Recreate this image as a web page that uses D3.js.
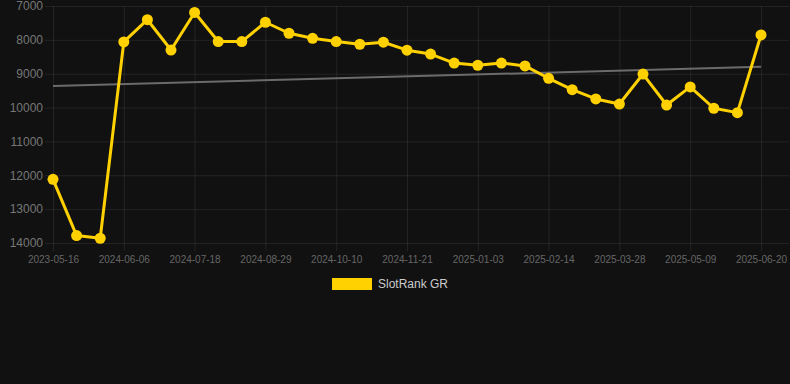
<!DOCTYPE html>
<html>
<head>
<meta charset="utf-8">
<script src="https://cdn.jsdelivr.net/npm/d3@7"></script>
<style>
    html, body { margin: 0; padding: 0; background: #111111; }
    #chart { width: 790px; height: 384px; }
    text { font-family: "Liberation Sans", Arial, Helvetica, sans-serif; }
</style>
</head>
<body>
<div id="chart"></div>
<script>
const dates = [
    "2023-05-16", "2024-05-09", "2024-05-23", "2024-06-06", "2024-06-20", "2024-07-04",
    "2024-07-18", "2024-08-01", "2024-08-15", "2024-08-29", "2024-09-12", "2024-09-26",
    "2024-10-10", "2024-10-24", "2024-11-07", "2024-11-21", "2024-12-06", "2024-12-20",
    "2025-01-03", "2025-01-17", "2025-01-31", "2025-02-14", "2025-02-28", "2025-03-14",
    "2025-03-28", "2025-04-11", "2025-04-25", "2025-05-09", "2025-05-23", "2025-06-06",
    "2025-06-20"
];
const rankGR = [
    12120, 13780, 13860, 8060, 7405, 8300,
    7190, 8050, 8050, 7480, 7805, 7955,
    8050, 8130, 8070, 8305, 8420, 8685,
    8750, 8685, 8770, 9135, 9470, 9745,
    9895, 9010, 9925, 9390, 10020, 10150,
    7855
];
const trendEnds = [9365, 8795];
const yTicks = [7000, 8000, 9000, 10000, 11000, 12000, 13000, 14000];
const seriesName = "SlotRank GR";

const yellow = "#ffd100";
const svg = d3.select("#chart").append("svg")
    .attr("width", 790)
    .attr("height", 384);

const plotLeft = 53, plotRight = 761, plotTop = 6, plotBottom = 243, gridRight = 789;

const x = d3.scalePoint().domain(dates).range([plotLeft, plotRight]);
const y = d3.scaleLinear().domain([7000, 14000]).range([plotTop, plotBottom]);

// y axis + horizontal grid
const yAxis = svg.append("g")
    .attr("transform", `translate(${plotLeft},0)`)
    .call(d3.axisLeft(y).tickValues(yTicks).tickSize(0).tickPadding(10).tickFormat(d => d));
yAxis.select(".domain").remove();
yAxis.selectAll(".tick line")
    .attr("x1", -8).attr("x2", gridRight - plotLeft)
    .attr("stroke", "rgba(255,255,255,0.08)");
yAxis.selectAll(".tick text")
    .attr("fill", "#777").style("font-size", "12px");

// x axis + vertical grid
const xAxis = svg.append("g")
    .attr("transform", `translate(0,${plotBottom})`)
    .call(d3.axisBottom(x).tickValues(dates.filter((d, i) => i % 3 === 0)).tickSize(0).tickPadding(13));
xAxis.select(".domain").remove();
xAxis.selectAll(".tick line")
    .attr("y1", 8).attr("y2", plotTop - plotBottom)
    .attr("stroke", "rgba(255,255,255,0.08)");
xAxis.selectAll(".tick text")
    .attr("fill", "#666").style("font-size", "10px");

// trend line
svg.append("line")
    .attr("x1", x(dates[0])).attr("y1", y(trendEnds[0]))
    .attr("x2", x(dates[dates.length - 1])).attr("y2", y(trendEnds[1]))
    .attr("stroke", "#6b6b6b")
    .attr("stroke-width", 2);

// series line
const line = d3.line()
    .x((d, i) => x(dates[i]))
    .y(d => y(d));

svg.append("path")
    .datum(rankGR)
    .attr("fill", "none")
    .attr("stroke", yellow)
    .attr("stroke-width", 3)
    .attr("stroke-linejoin", "round")
    .attr("d", line);

svg.append("g")
    .selectAll("circle")
    .data(rankGR)
    .enter().append("circle")
    .attr("cx", (d, i) => x(dates[i]))
    .attr("cy", d => y(d))
    .attr("r", 5.5)
    .attr("fill", yellow);

// legend
const legend = svg.append("g").attr("transform", "translate(332,278)");
legend.append("rect")
    .attr("width", 40).attr("height", 12)
    .attr("fill", yellow);
legend.append("text")
    .attr("x", 46).attr("y", 6)
    .attr("dy", "0.35em")
    .attr("fill", "#cccccc")
    .style("font-size", "12px")
    .text(seriesName);
</script>
</body>
</html>
